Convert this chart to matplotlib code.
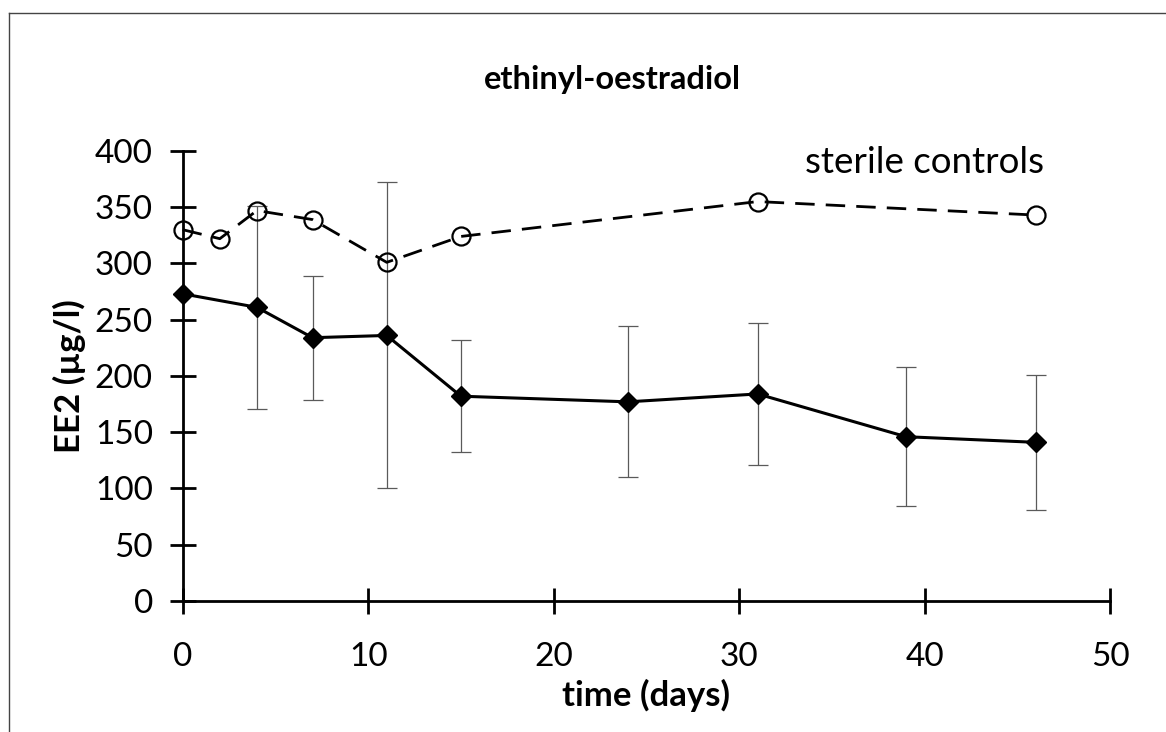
import matplotlib
matplotlib.use("Agg")
import matplotlib.pyplot as plt
from matplotlib.lines import Line2D

# Data
days = [0, 4, 7, 11, 15, 24, 31, 39, 46]
ee2 = [273, 261, 234, 236, 182, 177, 184, 146, 141]
ee2_err = [0, 90, 55, 136, 50, 67, 63, 62, 60]

ctrl_days = [0, 2, 4, 7, 11, 15, 31, 46]
ctrl_ee2 = [330, 322, 347, 339, 301, 324, 355, 343]

plt.rcParams['font.family'] = ['Lato', 'DejaVu Sans']

fig = plt.figure(figsize=(11.66, 7.32), dpi=100)
ax = fig.add_axes([0.1567, 0.179, 0.7953, 0.6148])

# error bars (thin grey) behind the lines
ax.errorbar(days, ee2, yerr=ee2_err, fmt='none', ecolor='#5a5a5a',
            elinewidth=0.9, capsize=7, capthick=0.9, zorder=2, clip_on=False)

ax.plot(days, ee2, color='black', linewidth=2.2, marker='D', markersize=10.5,
        markerfacecolor='black', markeredgecolor='black', zorder=4, clip_on=False)

ax.plot(ctrl_days, ctrl_ee2, color='black', linewidth=2, dashes=(7, 4),
        marker='o', markersize=13, markerfacecolor='none',
        markeredgecolor='black', markeredgewidth=1.6, zorder=3, clip_on=False)

ax.set_xlim(0, 50)
ax.set_ylim(0, 400)
ax.set_xticks(range(0, 51, 10))
ax.set_yticks(range(0, 401, 50))

for side in ['top', 'right']:
    ax.spines[side].set_visible(False)
for side in ['left', 'bottom']:
    ax.spines[side].set_linewidth(2)

ax.tick_params(axis='both', direction='inout', length=19, width=2, labelsize=24)
ax.tick_params(axis='y', pad=12)
ax.tick_params(axis='x', pad=20)

ax.set_xlabel('time (days)', fontsize=25, fontweight='bold', labelpad=5)
ax.set_ylabel('EE2 (µg/l)', fontsize=25, fontweight='bold', labelpad=6)

fig.text(0.525, 0.891, 'ethinyl-oestradiol', fontsize=23.5, fontweight='bold',
         ha='center', va='center')
fig.text(0.895, 0.7637, 'sterile controls', fontsize=26.5, ha='right', va='baseline')

# frame lines along the top and left of the picture
fig.add_artist(Line2D([0.008, 1.0], [0.982, 0.982], color='#444444', linewidth=1,
                      transform=fig.transFigure))
fig.add_artist(Line2D([0.008, 0.008], [0.0, 0.982], color='#444444', linewidth=1,
                      transform=fig.transFigure))

plt.savefig("out.png", dpi=100)
plt.close()
